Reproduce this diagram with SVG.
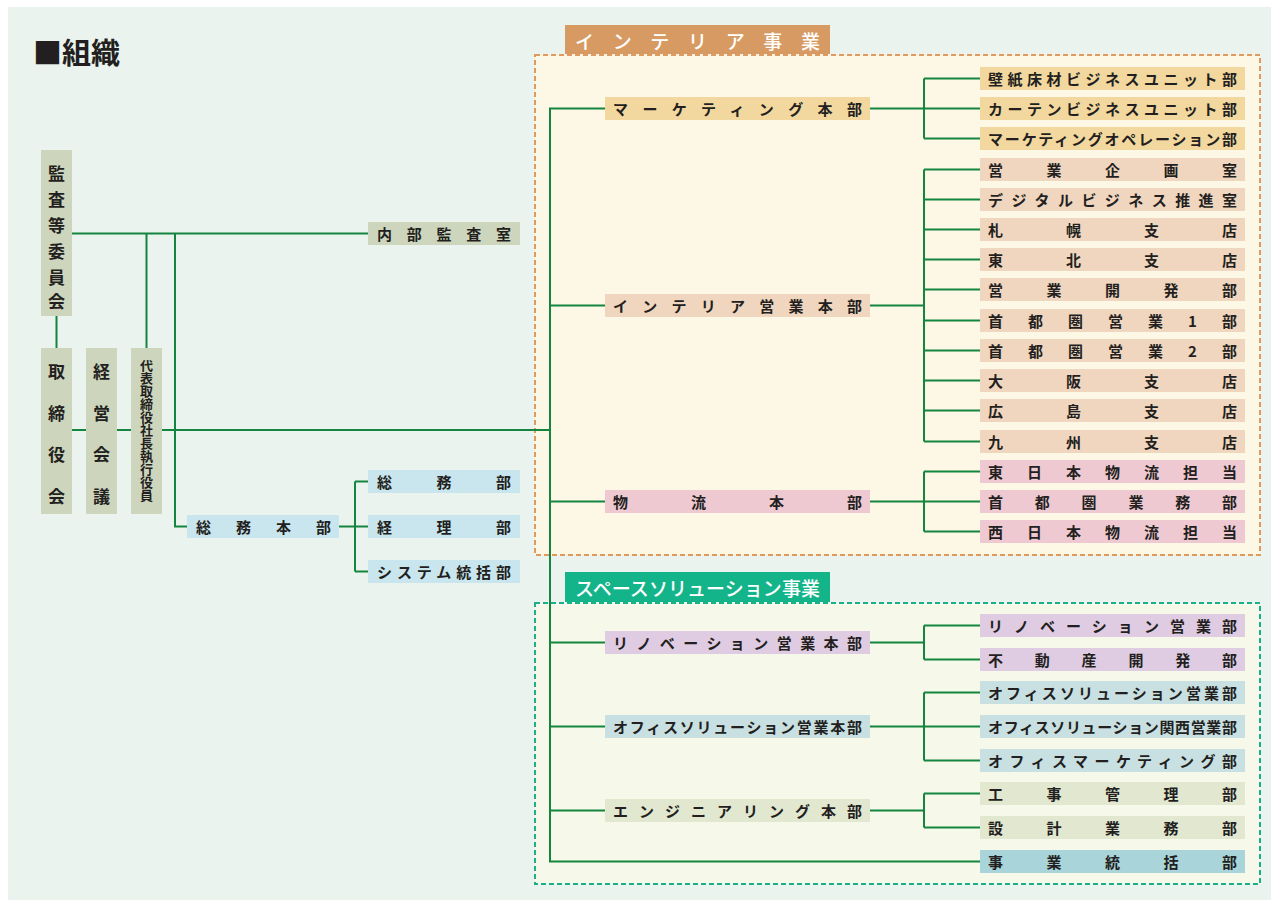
<svg xmlns="http://www.w3.org/2000/svg" width="1277" height="900" viewBox="0 0 1277 900">
<style>
text{font-family:"Noto Sans CJK JP","Noto Sans CJK SC",sans-serif;fill:#231F20;font-weight:700;font-size:15px;dominant-baseline:central}
.conn{stroke:#13853F;stroke-width:2;fill:none}
.lg{fill:#CDD5BD}.gm{fill:#C9E6EE}.mk{fill:#F2D89E}.is{fill:#F0D6BE}.bu{fill:#EFC9D2}
.rv{fill:#DFCCE2}.of{fill:#C8E0E2}.en{fill:#E2E7D0}.ji{fill:#A8D4DA}
.hd{fill:#fff;font-size:19px;font-weight:500}
.vt{font-size:17px;text-anchor:middle}
.vr{font-size:13px;writing-mode:vertical-rl;text-anchor:middle}
</style>
<rect x="0" y="0" width="1277" height="900" fill="#fff"/>
<rect x="8" y="7" width="1263" height="893" fill="#EAF3EE"/>
<text x="33" y="51" style="font-size:29px;font-weight:700">■組織</text>

<g id="interior-area">
<rect x="535" y="55" width="725" height="500" fill="#FDF7E6" stroke="#E09A5E" stroke-width="2" stroke-dasharray="5 3"/>
<rect x="565" y="25" width="265" height="29" fill="#D79A63"/>
<text class="hd" x="575" y="40" textLength="245" lengthAdjust="spacing">インテリア事業</text>
</g>
<g id="space-area">
<rect x="535" y="603" width="725" height="281" fill="#F6F8EA" stroke="#1CB08A" stroke-width="2" stroke-dasharray="5 3"/>
<rect x="565" y="572" width="265" height="30" fill="#14B48A"/>
<text class="hd" x="575" y="587" textLength="245" lengthAdjust="spacing">スペースソリューション事業</text>
</g>

<g id="connectors" class="conn">
<path d="M56.5 316 V348"/>
<path d="M72 233.5 H368"/>
<path d="M146.5 233.5 V348"/>
<path d="M175 233.5 V526.5 H187"/>
<path d="M72 430 H550"/>
<path d="M339 526.5 H355 M355 481.5 V571.5 M355 481.5 H368 M355 526.5 H368 M355 571.5 H368"/>
<path d="M605 108.5 H550 V861.5 H980"/>
<path d="M550 305.5 H605 M550 501.5 H605 M550 642.5 H605 M550 726.5 H605 M550 810.5 H605"/>
<path d="M870 108.5 H980 M924 78.5 V138.5 M924 78.5 H980 M924 138.5 H980"/>
<path d="M870 305.5 H924 M924 169.5 V441.5 M924 169.5 H980 M924 199.5 H980 M924 229.5 H980 M924 259.5 H980 M924 289.5 H980 M924 320.5 H980 M924 350.5 H980 M924 380.5 H980 M924 410.5 H980 M924 441.5 H980"/>
<path d="M870 501.5 H980 M924 471.5 V531.5 M924 471.5 H980 M924 531.5 H980"/>
<path d="M870 642.5 H924 M924 625.5 V659.5 M924 625.5 H980 M924 659.5 H980"/>
<path d="M870 726.5 H980 M924 692.5 V760.5 M924 692.5 H980 M924 760.5 H980"/>
<path d="M870 810.5 H924 M924 793.5 V827.5 M924 793.5 H980 M924 827.5 H980"/>
</g>

<g id="audit-committee"><rect class="lg" x="41" y="150" width="31" height="166"/>
<text class="vt"><tspan x="56.5" y="172">監</tspan><tspan x="56.5" y="198">査</tspan><tspan x="56.5" y="224">等</tspan><tspan x="56.5" y="250">委</tspan><tspan x="56.5" y="276">員</tspan><tspan x="56.5" y="300">会</tspan></text></g>
<g id="board"><rect class="lg" x="41" y="348" width="31" height="166"/>
<text class="vt"><tspan x="56.5" y="370">取</tspan><tspan x="56.5" y="412">締</tspan><tspan x="56.5" y="453">役</tspan><tspan x="56.5" y="495">会</tspan></text></g>
<g id="management-council"><rect class="lg" x="86" y="348" width="31" height="166"/>
<text class="vt"><tspan x="101.5" y="370">経</tspan><tspan x="101.5" y="412">営</tspan><tspan x="101.5" y="453">会</tspan><tspan x="101.5" y="495">議</tspan></text></g>
<g id="president"><rect class="lg" x="131" y="348" width="31" height="166"/>
<text class="vr" x="146.5" y="430">代表取締役社長執行役員</text></g>

<g id="internal-audit"><rect class="lg" x="368" y="222" width="152" height="23"/><text x="377" y="233.5" textLength="134" lengthAdjust="spacing">内部監査室</text></g>
<g id="general-affairs-hq"><rect class="gm" x="187" y="515" width="152" height="23"/><text x="196" y="526.5" textLength="135" lengthAdjust="spacing">総務本部</text></g>
<g id="general-affairs"><rect class="gm" x="368" y="470" width="152" height="23"/><text x="377" y="481.5" textLength="134" lengthAdjust="spacing">総務部</text></g>
<g id="accounting"><rect class="gm" x="368" y="515" width="152" height="23"/><text x="377" y="526.5" textLength="134" lengthAdjust="spacing">経理部</text></g>
<g id="systems"><rect class="gm" x="368" y="560" width="152" height="23"/><text x="377" y="571.5" textLength="134" lengthAdjust="spacing">システム統括部</text></g>

<g id="marketing-hq"><rect class="mk" x="605" y="97" width="265" height="23"/><text x="613" y="108.5" textLength="249" lengthAdjust="spacing">マーケティング本部</text></g>
<g id="interior-sales-hq"><rect class="is" x="605" y="294" width="265" height="23"/><text x="613" y="305.5" textLength="249" lengthAdjust="spacing">インテリア営業本部</text></g>
<g id="logistics-hq"><rect class="bu" x="605" y="490" width="265" height="23"/><text x="613" y="501.5" textLength="249" lengthAdjust="spacing">物流本部</text></g>
<g id="renovation-hq"><rect class="rv" x="605" y="631" width="265" height="23"/><text x="613" y="642.5" textLength="249" lengthAdjust="spacing">リノベーション営業本部</text></g>
<g id="office-hq"><rect class="of" x="605" y="715" width="265" height="23"/><text x="613" y="726.5" textLength="249" lengthAdjust="spacing">オフィスソリューション営業本部</text></g>
<g id="engineering-hq"><rect class="en" x="605" y="799" width="265" height="23"/><text x="613" y="810.5" textLength="249" lengthAdjust="spacing">エンジニアリング本部</text></g>

<g id="wallpaper"><rect class="mk" x="980" y="67" width="265" height="23"/><text x="988" y="78.5" textLength="249" lengthAdjust="spacing">壁紙床材ビジネスユニット部</text></g>
<g id="curtain"><rect class="mk" x="980" y="97" width="265" height="23"/><text x="988" y="108.5" textLength="249" lengthAdjust="spacing">カーテンビジネスユニット部</text></g>
<g id="mk-ops"><rect class="mk" x="980" y="127" width="265" height="23"/><text x="988" y="138.5" textLength="249" lengthAdjust="spacing">マーケティングオペレーション部</text></g>
<g id="sales-planning"><rect class="is" x="980" y="158" width="265" height="23"/><text x="988" y="169.5" textLength="249" lengthAdjust="spacing">営業企画室</text></g>
<g id="digital"><rect class="is" x="980" y="188" width="265" height="23"/><text x="988" y="199.5" textLength="249" lengthAdjust="spacing">デジタルビジネス推進室</text></g>
<g id="sapporo"><rect class="is" x="980" y="218" width="265" height="23"/><text x="988" y="229.5" textLength="249" lengthAdjust="spacing">札幌支店</text></g>
<g id="tohoku"><rect class="is" x="980" y="248" width="265" height="23"/><text x="988" y="259.5" textLength="249" lengthAdjust="spacing">東北支店</text></g>
<g id="sales-dev"><rect class="is" x="980" y="278" width="265" height="23"/><text x="988" y="289.5" textLength="249" lengthAdjust="spacing">営業開発部</text></g>
<g id="metro1"><rect class="is" x="980" y="309" width="265" height="23"/><text x="988" y="320.5" textLength="249" lengthAdjust="spacing">首都圏営業1部</text></g>
<g id="metro2"><rect class="is" x="980" y="339" width="265" height="23"/><text x="988" y="350.5" textLength="249" lengthAdjust="spacing">首都圏営業2部</text></g>
<g id="osaka"><rect class="is" x="980" y="369" width="265" height="23"/><text x="988" y="380.5" textLength="249" lengthAdjust="spacing">大阪支店</text></g>
<g id="hiroshima"><rect class="is" x="980" y="399" width="265" height="23"/><text x="988" y="410.5" textLength="249" lengthAdjust="spacing">広島支店</text></g>
<g id="kyushu"><rect class="is" x="980" y="430" width="265" height="23"/><text x="988" y="441.5" textLength="249" lengthAdjust="spacing">九州支店</text></g>
<g id="east-logistics"><rect class="bu" x="980" y="460" width="265" height="23"/><text x="988" y="471.5" textLength="249" lengthAdjust="spacing">東日本物流担当</text></g>
<g id="metro-ops"><rect class="bu" x="980" y="490" width="265" height="23"/><text x="988" y="501.5" textLength="249" lengthAdjust="spacing">首都圏業務部</text></g>
<g id="west-logistics"><rect class="bu" x="980" y="520" width="265" height="23"/><text x="988" y="531.5" textLength="249" lengthAdjust="spacing">西日本物流担当</text></g>

<g id="renovation-sales"><rect class="rv" x="980" y="614" width="265" height="23"/><text x="988" y="625.5" textLength="249" lengthAdjust="spacing">リノベーション営業部</text></g>
<g id="real-estate"><rect class="rv" x="980" y="648" width="265" height="23"/><text x="988" y="659.5" textLength="249" lengthAdjust="spacing">不動産開発部</text></g>
<g id="office-sales"><rect class="of" x="980" y="681" width="265" height="23"/><text x="988" y="692.5" textLength="249" lengthAdjust="spacing">オフィスソリューション営業部</text></g>
<g id="office-kansai"><rect class="of" x="980" y="715" width="265" height="23"/><text x="988" y="726.5" textLength="249" lengthAdjust="spacing">オフィスソリューション関西営業部</text></g>
<g id="office-marketing"><rect class="of" x="980" y="749" width="265" height="23"/><text x="988" y="760.5" textLength="249" lengthAdjust="spacing">オフィスマーケティング部</text></g>
<g id="construction"><rect class="en" x="980" y="782" width="265" height="23"/><text x="988" y="793.5" textLength="249" lengthAdjust="spacing">工事管理部</text></g>
<g id="design"><rect class="en" x="980" y="816" width="265" height="23"/><text x="988" y="827.5" textLength="249" lengthAdjust="spacing">設計業務部</text></g>
<g id="business-control"><rect class="ji" x="980" y="850" width="265" height="23"/><text x="988" y="861.5" textLength="249" lengthAdjust="spacing">事業統括部</text></g>
</svg>
